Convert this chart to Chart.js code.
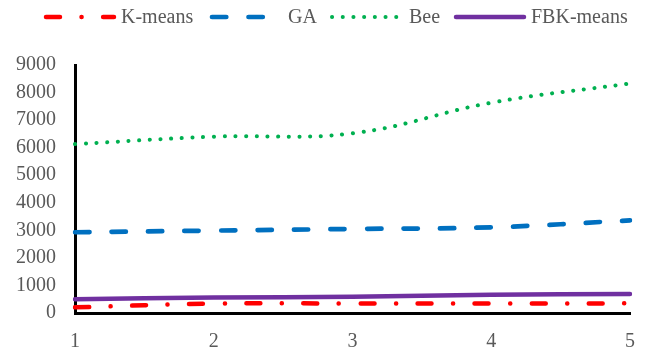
<!DOCTYPE html>
<html>
<head>
<meta charset="utf-8">
<script src="https://cdn.jsdelivr.net/npm/chart.js@4"></script>
<style>
  html, body { margin: 0; padding: 0; background: #fff; }
  #wrap { width: 652px; height: 352px; }
</style>
</head>
<body>
<div id="wrap"><canvas id="chart" width="652" height="352"></canvas></div>
<script>
// values
const labels = ['1', '2', '3', '4', '5'];
const kmeans = [205, 340, 345, 345, 350];
const ga = [2930, 2990, 3050, 3110, 3360];
const bee = [6130, 6400, 6520, 7630, 8330];
const fbk = [500, 560, 590, 660, 690];

const FONT = { family: '"Liberation Serif", "Times New Roman", serif', size: 20 };
const TEXT = '#595959';

// legend drawn by hand so the dash patterns show like the original
// [line start, line end, text x] per dataset
const legendSlots = [[46, 114, 121], [212, 266, 288], [332, 400, 409], [456, 524, 531]];
const topLegend = {
  id: 'topLegend',
  afterDraw(chart) {
    const ctx = chart.ctx;
    const y = 17;
    chart.data.datasets.forEach((ds, i) => {
      const s = legendSlots[i];
      ctx.save();
      ctx.strokeStyle = ds.borderColor;
      ctx.lineWidth = ds.borderWidth;
      ctx.lineCap = ds.borderCapStyle;
      ctx.setLineDash(ds.borderDash);
      ctx.beginPath();
      ctx.moveTo(s[0], y);
      ctx.lineTo(s[1], y);
      ctx.stroke();
      ctx.setLineDash([]);
      ctx.fillStyle = TEXT;
      ctx.font = FONT.size + 'px ' + FONT.family;
      ctx.textBaseline = 'middle';
      ctx.textAlign = 'left';
      ctx.fillText(ds.label, s[2], y + 1);
      ctx.restore();
    });
  }
};

function line(label, data, color, width, dash) {
  return {
    label: label,
    data: data,
    borderColor: color,
    backgroundColor: color,
    borderWidth: width,
    borderDash: dash,
    borderCapStyle: 'round',
    pointRadius: 0,
    tension: 0.4,
    fill: false
  };
}

new Chart(document.getElementById('chart'), {
  type: 'line',
  data: {
    labels: labels,
    datasets: [
      line('K-means', kmeans, '#FF0000', 4.5, [14, 21.5, 0.1, 21.5]),
      line('GA', ga, '#0070C0', 4.7, [14.3, 22.2]),
      line('Bee', bee, '#00B050', 4, [0.1, 10.6]),
      line('FBK-means', fbk, '#7030A0', 4.5, [])
    ]
  },
  options: {
    responsive: false,
    animation: false,
    layout: { padding: { left: 0, right: 15, top: 65, bottom: 0 } },
    plugins: {
      tooltip: { enabled: false },
      legend: { display: false }
    },
    scales: {
      x: {
        offset: false,
        grid: { display: false, drawTicks: false },
        border: { color: '#000', width: 3 },
        ticks: { color: TEXT, font: FONT, padding: 17, maxRotation: 0 },
        afterFit(scale) { scale.height = 39; }
      },
      y: {
        min: 0,
        max: 9000,
        grid: { display: false, drawTicks: false },
        border: { color: '#000', width: 3 },
        ticks: {
          color: TEXT,
          font: FONT,
          stepSize: 1000,
          padding: 19,
          callback: v => String(v)
        },
        afterFit(scale) { scale.width = 75; }
      }
    }
  },
  plugins: [topLegend]
});
</script>
</body>
</html>
